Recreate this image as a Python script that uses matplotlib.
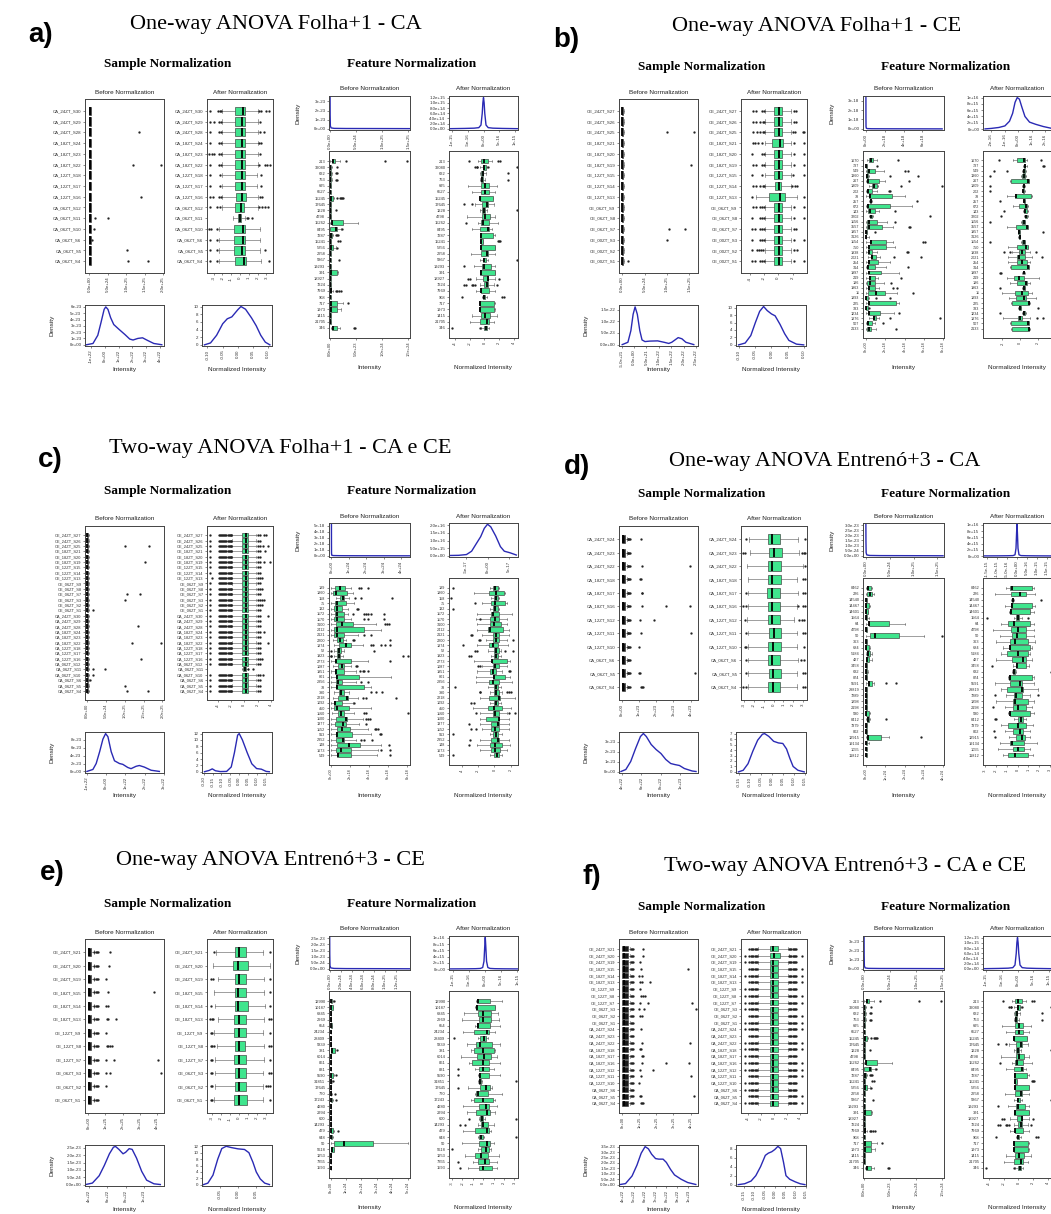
import numpy as np
import matplotlib.pyplot as plt

plt.rcParams['font.family'] = ['Liberation Sans', 'DejaVu Sans']

W, H = 1051, 1214
GREEN = '#3fe58d'
BLUE = '#2a2ab4'
EDGE = '#3a3a3a'

# ---------------------------------------------------------------- panel a
a_samples = ["CA_24ZT_S30", "CA_24ZT_S29", "CA_24ZT_S28", "CA_18ZT_S24", "CA_18ZT_S23",
             "CA_18ZT_S22", "CA_12ZT_S18", "CA_12ZT_S17", "CA_12ZT_S16", "CA_06ZT_S12",
             "CA_06ZT_S11", "CA_06ZT_S10", "CA_06ZT_S6", "CA_06ZT_S5", "CA_06ZT_S4"]
a_sb_box = (0.0, 0.01, 0.03, 0.0, 0.05)          # x 1e25
a_sb_out = [[], [], [1.34], [], [], [1.19, 1.94], [], [], [1.41], [],
            [0.15, 0.51], [0.13], [0.08], [1.02], [1.05, 1.6]]
a_sa_box = [(-0.56, 0.30, 0.56, -2.0, 2.0), (-0.56, 0.26, 0.56, -2.0, 2.0),
            (-0.56, 0.26, 0.56, -2.0, 2.1), (-0.56, 0.22, 0.56, -2.0, 2.0),
            (-0.56, 0.22, 0.56, -2.0, 2.0), (-0.56, 0.26, 0.56, -2.0, 2.0),
            (-0.56, 0.26, 0.56, -2.0, 1.95), (-0.56, 0.26, 0.56, -2.0, 1.95),
            (-0.45, 0.26, 0.67, -2.0, 2.1), (-0.56, 0.11, 0.45, -2.0, 2.0),
            (-0.19, 0.0, 0.11, -0.75, 0.56), (-0.67, 0.30, 0.56, -2.4, 2.3),
            (-0.67, 0.30, 0.56, -2.4, 2.3), (-0.67, 0.26, 0.56, -2.4, 2.3),
            (-0.56, 0.45, 0.67, -2.4, 2.4)]
a_sa_out = [[-3.4, -2.5, -2.3, -2.2, 2.2, 2.4, 3.0, 3.3], [-3.4, -2.9, -2.4, -2.2, 2.3],
            [-3.4, -2.4, -2.2, 2.3, 2.7], [-3.4, -2.4, -2.2, 2.2, 2.4],
            [-3.5, -3.2, -2.9, -2.4, -2.2, 2.3], [-3.4, -2.4, -2.2, 2.2, 2.8, 3.1, 3.4],
            [-3.4, -2.3, 2.4], [-3.4, -2.3, 2.4], [-3.4, -3.1, -2.4, -2.2, 2.3, 2.5],
            [-3.4, -2.6, -2.3, 2.2, 2.5, 2.8, 3.2], [0.75, 0.94, 1.4], [-3.5, -3.3, -2.6],
            [-3.4, -2.6], [-3.4, -2.6, 2.8], [-3.4, -2.6, 3.3]]
a_sdb_x = [-1.33, -0.86, -0.51, -0.28, -0.05, 0.07, 0.23, 0.42, 0.65, 1.0, 1.47, 1.81,
           2.05, 2.4, 2.74, 3.09, 3.56, 4.14]   # x 1e22
a_sdb_y = [0, 0.2, 1.5, 3.5, 5.6, 6.0, 5.6, 4.3, 3.2, 2.5, 1.6, 0.9, 0.75, 1.0, 1.1, 0.7,
           0.2, 0]                               # x 1e-23
a_sda_x = [-0.11, -0.09, -0.07, -0.05, -0.035, -0.02, 0.0, 0.01, 0.025, 0.045, 0.06,
           0.075, 0.09, 0.105]
a_sda_y = [0, 0.5, 2.5, 5.5, 6.8, 7.3, 9.2, 10, 9.3, 7.0, 5.0, 2.5, 0.7, 0]

a_features = ["213", "32080", "632", "763", "695", "6527", "15245", "17645", "1228", "4798",
              "15262", "8495", "7287", "15241", "5256", "2258", "5867", "19293", "391",
              "18927", "7224", "7969", "908", "717", "1973", "1415", "21705", "346"]
a_fb_box = [(0.3, 0.6, 1.0, 0.0, 1.9), (0, 0.05, 0.2, 0, 0.3), (0, 0.05, 0.2, 0, 0.3),
            (0, 0.05, 0.2, 0, 0.3), (0, 0.05, 0.15, 0, 0.25), (0, 0.05, 0.15, 0, 0.25),
            (0, 0.2, 0.5, 0, 0.8), (0, 0.05, 0.15, 0, 0.25), (0, 0.05, 0.15, 0, 0.25),
            (0, 0.05, 0.15, 0, 0.25), (0.3, 0.45, 2.55, 0, 5.4), (0, 1.15, 1.4, 0, 2.2),
            (0, 0.1, 0.3, 0, 0.6), (0, 0.05, 0.15, 0, 0.25), (0.06, 0.13, 0.64, 0, 1.1),
            (0, 0.05, 0.15, 0, 0.25), (0, 0.05, 0.15, 0, 0.25), (0, 0.05, 0.15, 0, 0.25),
            (0.06, 0.13, 1.4, 0, 1.5), (0, 0.05, 0.15, 0, 0.25), (0, 0.05, 0.15, 0, 0.25),
            (0, 0.1, 0.25, 0, 0.64), (0, 0.05, 0.15, 0, 0.25), (0.06, 0.2, 1.28, 0, 2.5),
            (0.06, 0.2, 1.4, 0, 2.2), (0, 0.05, 0.15, 0, 0.25), (0, 0.05, 0.15, 0, 0.25),
            (0.4, 0.5, 1.28, 0.1, 1.9)]        # x 1e23
a_fb_out = [[3.1, 10.5, 14.7], [1.3], [1.15, 1.3], [1.1, 1.3], [], [],
            [1.4, 1.9, 2.1, 2.3, 2.55], [], [1.15], [], [], [2.3], [1.15, 1.4, 1.6],
            [1.6, 1.9], [1.3], [], [1.66], [], [], [], [], [1.15, 1.4, 1.66, 2.2], [],
            [3.5], [], [], [], [4.5, 4.7]]
a_fa_box = [(-0.53, -0.1, 0.44, -0.9, 1.1), (-0.18, -0.05, 0.2, -0.66, 0.4),
            (-0.44, -0.2, -0.13, -0.6, 0.2), (-0.4, -0.3, -0.18, -0.6, 0.1),
            (-0.53, 0.13, 0.66, -2.2, 1.76), (-0.53, 0.09, 0.62, -1.67, 1.5),
            (-0.66, -0.57, 1.19, -0.75, 1.2), (-0.31, 0.35, 0.53, -1.3, 1.3),
            (-0.31, -0.1, 0.09, -0.66, 0.35), (-0.35, 0.09, 0.79, -2.33, 1.5),
            (-0.44, -0.22, 0.66, -0.88, 1.85), (-0.66, 0.53, 0.66, -1.76, 1.1),
            (-0.57, -0.48, 1.19, -0.66, 1.4), (-0.53, -0.4, -0.26, -0.6, -0.2),
            (-0.53, -0.44, 1.45, -0.66, 1.5), (-0.53, 0.31, 0.44, -1.85, 1.5),
            (-0.26, 0.0, 0.22, -0.6, 0.5), (-0.35, -0.05, 0.88, -1.41, 1.5),
            (-0.57, -0.48, 1.41, -0.66, 1.45), (-0.22, 0.44, 0.53, -1.1, 1.45),
            (-0.09, 0.35, 0.53, -0.62, 1.32), (-0.53, -0.44, 0.57, -1.1, 1.5),
            (-0.13, 0.0, 0.13, -0.3, 0.3), (-0.62, -0.57, 1.32, -0.7, 1.4),
            (-0.62, -0.57, 1.32, -0.7, 1.4), (-0.53, 0.09, 0.75, -1.76, 1.67),
            (-0.62, 0.35, 0.66, -1.98, 1.32), (0.0, 0.18, 0.35, -0.44, 0.66)]
a_fa_out = [[-2.07, 1.9, 2.07], [-1.3, -1.05, -0.97, 0.44, 4.5], [3.2], [3.2], [], [], [],
            [-2.8, -1.76], [4.4], [], [-2.55], [], [], [1.85, 2.0, 2.2], [], [], [4.4],
            [-2.73], [], [-2.2, -2.0, 1.98], [-2.73, -2.5, -1.76, -1.5, -1.3, 1.76], [],
            [-3.08, 2.42, 2.64], [], [], [], [], [-4.4, -0.66]]
a_fdb_x = [0.0, 0.002, 0.006, 0.02, 0.08, 0.3, 0.8, 1.2, 1.52]        # x 1e25
a_fdb_y = [4.0, 1.5, 0.3, 0.08, 0.03, 0.015, 0.01, 0.005, 0.0]        # x 1e-23
a_fda_x = [-1.1, -0.6, -0.3, -0.15, -0.08, -0.04, -0.02, 0, 0.02, 0.04, 0.08, 0.15, 0.3,
           0.6, 1.1]                                                   # x 1e-15
a_fda_y = [0.01, 0.02, 0.03, 0.05, 0.15, 0.6, 1.0, 1.2, 1.0, 0.6, 0.15, 0.05, 0.03, 0.02,
           0.01]                                                       # x 1e15

# ---------------------------------------------------------------- panel b
b_samples = ["CE_24ZT_S27", "CE_24ZT_S26", "CE_24ZT_S25", "CE_18ZT_S21", "CE_18ZT_S20",
             "CE_18ZT_S19", "CE_12ZT_S15", "CE_12ZT_S14", "CE_12ZT_S13", "CE_06ZT_S9",
             "CE_06ZT_S8", "CE_06ZT_S7", "CE_00ZT_S3", "CE_00ZT_S2", "CE_00ZT_S1"]
b_sb_box = (0.0, 0.005, 0.02, 0.0, 0.035)
b_sb_out = [[], [], [0.99, 1.61], [], [], [1.53], [], [], [], [], [], [1.05, 1.40], [0.99],
            [], [0.13]]
b_sa_box = [(-0.6, 0.15, 0.5, -1.9, 1.8), (-0.6, 0.15, 0.5, -1.9, 1.8),
            (-0.6, 0.15, 0.5, -1.9, 1.8), (-0.9, 0.3, 0.6, -1.9, 1.8),
            (-0.6, 0.15, 0.5, -1.9, 1.8), (-0.6, 0.15, 0.5, -1.9, 1.8),
            (-0.6, 0.15, 0.5, -1.9, 1.8), (-0.5, 0.1, 0.4, -1.8, 1.7),
            (-1.3, 0.3, 0.9, -3.1, 2.6), (-0.6, 0.15, 0.5, -1.9, 1.8),
            (-0.6, 0.15, 0.5, -1.9, 1.8), (-0.6, 0.15, 0.5, -1.9, 1.8),
            (-0.6, 0.15, 0.5, -1.9, 1.8), (-0.6, 0.15, 0.5, -1.9, 1.8),
            (-0.6, 0.15, 0.5, -1.9, 1.8)]
b_sa_out = [[-3.5, -3.1, -2.3, -2.0, 2.2, 2.5], [-3.5, -3.1, -2.5, -2.2, -2.0, 2.2, 2.5],
            [-3.5, -3.0, -2.5, -2.2, -2.0, 2.1, 2.3, 3.4, 3.6],
            [-3.5, -3.2, -2.9, -2.3, 2.2, 3.6], [-3.6, -2.3, -2.0, 2.2, 3.6],
            [-3.5, -3.1, -2.3, -2.0, 2.2, 3.6], [-3.6, -2.3, 2.0, 3.6],
            [-3.5, -3.1, -2.5, -2.2, -2.0, 1.9, 2.3, 2.6], [-3.6, 3.6],
            [-3.5, -3.1, -2.6, -2.3, -2.0, 2.2, 3.6], [-3.6, -2.6, -2.3, -2.0, 2.2, 3.6],
            [-3.6, -3.3, -2.6, -2.3, -2.0, 2.2, 2.4], [-3.6, -2.6, -2.3, -2.0, 2.2, 3.6],
            [-3.6, -3.0, -2.7, -2.4, -2.1, 2.2, 2.6], [-3.6, -3.3, -2.6, -2.3, -2.0, 2.2, 3.6]]
b_sdb_x = [-0.48, -0.25, -0.13, -0.04, 0.04, 0.13, 0.23, 0.32, 0.44, 0.63, 0.95, 1.21, 1.40,
           1.52, 1.78, 1.93, 2.09, 2.41]        # x 1e22
b_sdb_y = [0, 0.1, 0.6, 1.3, 1.62, 1.3, 0.6, 0.2, 0.13, 0.15, 0.16, 0.1, 0.05, 0.1, 0.3,
           0.25, 0.1, 0]                         # x 1e-22
b_sda_x = [-0.1, -0.08, -0.063, -0.049, -0.036, -0.024, -0.013, 0, 0.011, 0.026, 0.04,
           0.053, 0.076, 0.098]
b_sda_y = [0, 0.5, 2.5, 6, 9, 10.3, 9.2, 8.3, 7.8, 5.5, 3.0, 1.2, 0.2, 0]

b_features = ["1670", "737", "549", "1360", "267", "1809", "202", "78", "257", "672", "143",
              "3202", "1156", "3557", "1957", "3126", "1154", "750", "1938", "2021", "254",
              "314", "1997", "219", "186", "1963", "11", "1893", "225", "333", "1234",
              "1876", "507", "2133"]
b_fb_box = [(0.31, 0.48, 0.72, 0.07, 1.16), (0, 0.03, 0.07, 0, 0.12),
            (0.07, 0.34, 0.89, 0, 1.84), (0.03, 0.07, 0.2, 0, 0.3),
            (0.07, 0.2, 1.33, 0, 2.0), (0.65, 0.82, 1.09, 0.3, 1.26),
            (0.07, 0.2, 0.65, 0, 1.16), (0.27, 0.41, 2.73, 0, 4.06),
            (0.41, 0.48, 0.55, 0.3, 0.6), (0.07, 0.2, 2.53, 0, 4.74),
            (0.2, 0.41, 0.89, 0, 1.33), (0.41, 0.55, 0.65, 0.3, 0.75),
            (0.14, 0.27, 1.16, 0, 2.18), (0.14, 0.31, 1.67, 0, 2.8),
            (0, 0.03, 0.07, 0, 0.1), (0, 0.02, 0.05, 0, 0.3),
            (0.41, 0.48, 2.05, 0, 2.8), (0.24, 0.34, 2.05, 0, 2.97),
            (0.24, 0.34, 0.61, 0, 1.16), (0.48, 0.58, 1.0, 0.2, 1.5),
            (0.2, 0.31, 1.23, 0, 2.46), (0.07, 0.2, 0.92, 0, 2.11),
            (0.2, 0.31, 1.6, 0, 3.38), (0.27, 0.41, 0.92, 0, 1.26),
            (0.14, 0.41, 0.92, 0, 1.84), (0.2, 0.31, 0.92, 0, 1.33),
            (0.2, 1.06, 2.0, 0, 3.2), (0, 0.05, 0.2, 0, 0.3),
            (0.2, 0.31, 3.07, 0, 3.38), (0, 0.05, 0.17, 0, 0.2),
            (0.24, 0.31, 1.5, 0, 2.87), (0.68, 0.82, 0.99, 0.3, 1.36),
            (0.07, 0.2, 0.58, 0, 0.89), (0.07, 0.34, 0.51, 0, 0.99)]   # x 1e18
b_fb_out = [[3.28], [1.16], [4.06, 4.4], [2.53, 5.36], [4.5], [3.65, 7.88], [2.35, 2.5], [],
            [5.32], [], [3.04], [6.62], [3.04], [4.44, 4.54], [0.89], [], [5.94, 6.07], [],
            [4.23, 4.4], [2.87, 5.7], [], [4.4], [], [3.61], [2.6], [2.8, 3.2], [4.91],
            [0.99, 2.53], [], [0.34], [3.38], [2.53, 7.65], [1.77], [3.1]]
b_fa_box = [(-0.39, 0.39, 0.53, -0.81, 0.78), (0.46, 0.53, 0.6, 0.3, 0.8),
            (0.32, 0.42, 0.53, 0.2, 0.7), (0.25, 0.4, 0.53, 0.1, 0.7),
            (-0.99, 0.88, 0.95, -1.1, 1.0), (0.32, 0.4, 0.46, 0.2, 0.6),
            (0.28, 0.35, 0.46, 0.2, 0.6), (-0.53, -0.46, 1.2, -1.45, 1.31),
            (0.39, 0.46, 0.53, 0.3, 0.6), (-0.11, 0.71, 0.78, -0.81, 0.85),
            (0.46, 0.6, 0.74, 0.3, 0.85), (0.53, 0.67, 0.81, 0.4, 0.9),
            (0.25, 0.4, 0.5, 0.1, 0.6), (-0.46, 0.78, 0.85, -1.45, 0.9),
            (-0.21, -0.14, -0.07, -0.3, 0.0), (-0.14, -0.07, -0.04, -0.2, 0.0),
            (0.25, 0.4, 0.5, 0.1, 0.6), (-0.39, 0.67, 0.85, -1.38, 0.9),
            (-0.11, 0.18, 0.56, -0.88, 1.13), (-0.35, -0.11, 0.53, -1.41, 1.31),
            (-0.39, 0.25, 0.78, -1.41, 1.13), (-1.06, 0.88, 0.95, -1.2, 1.0),
            (0.32, 0.4, 0.46, 0.2, 0.6), (-0.74, -0.11, 0.39, -1.52, 2.12),
            (-0.39, 0.71, 0.78, -1.17, 1.13), (0.32, 0.42, 0.5, 0.2, 0.6),
            (-0.53, 0.25, 0.85, -2.05, 1.38), (-0.46, 0.42, 0.64, -1.24, 1.84),
            (-0.88, 0.95, 1.02, -1.0, 1.1), (-0.11, -0.04, 0.04, -0.2, 0.1),
            (0.32, 0.46, 0.6, 0.2, 0.7), (-0.28, -0.04, 0.25, -1.94, 1.13),
            (-1.06, 0.88, 0.95, -1.2, 1.0), (-0.88, 0.95, 1.02, -1.0, 1.1)]
b_fa_out = [[-2.4, 2.3], [2.55, 2.72], [-3.0, -1.52], [-3.46], [], [-3.39], [-3.39], [],
            [-2.3], [], [-1.87], [-2.16], [-3.39], [], [2.55], [], [-3.39], [],
            [-1.87, -1.17, 1.84], [2.5], [], [], [-2.3, -2.16], [], [], [-2.33], [], [], [],
            [2.01], [-2.33], [1.94, 2.55], [], []]
b_fdb_x = [0.0, 0.004, 0.012, 0.04, 0.15, 0.6, 2.0, 5.0, 8.1]      # x 1e18
b_fdb_y = [4.0, 1.2, 0.25, 0.07, 0.03, 0.015, 0.01, 0.005, 0.0]    # x 1e-18
b_fda_x = [-2.45, -2.0, -1.43, -0.98, -0.64, -0.41, -0.23, -0.07, 0.09, 0.27, 0.5, 0.84,
           1.3, 1.86, 2.39]                                          # x 1e-16
b_fda_y = [0.05, 0.2, 0.5, 1.0, 2.5, 5.0, 8.5, 10, 9.5, 7.0, 4.0, 2.2, 1.5, 0.8, 0.3]  # x 1e15

# ---------------------------------------------------------------- panel c
c_samples = ["CE_24ZT_S27", "CE_24ZT_S26", "CE_24ZT_S25", "CE_18ZT_S21", "CE_18ZT_S20",
             "CE_18ZT_S19", "CE_12ZT_S15", "CE_12ZT_S14", "CE_12ZT_S13", "CE_06ZT_S9",
             "CE_06ZT_S8", "CE_06ZT_S7", "CE_06ZT_S3", "CE_06ZT_S2", "CE_06ZT_S1",
             "CA_24ZT_S30", "CA_24ZT_S29", "CA_24ZT_S28", "CA_18ZT_S24", "CA_18ZT_S23",
             "CA_18ZT_S22", "CA_12ZT_S18", "CA_12ZT_S17", "CA_12ZT_S16", "CA_06ZT_S12",
             "CA_06ZT_S11", "CA_06ZT_S10", "CA_06ZT_S6", "CA_06ZT_S5", "CA_06ZT_S4"]
c_sb_box = (0.0, 0.01, 0.03, 0.0, 0.05)
c_sb_out = [[], [], [1.0, 1.63], [], [], [1.54], [], [], [], [], [], [1.06, 1.41], [1.02],
            [], [0.15], [], [], [1.35], [], [], [1.2, 1.95], [], [], [1.43], [],
            [0.15, 0.47], [0.15], [0.09], [1.02], [1.06, 1.61]]
c_tail = [-3.85, -3.7, -3.5, -3.35, -3.2, -3.0, -2.85, -2.7, -2.5, -2.35, -2.2, -2.05, -1.95]
c_sa_box = ([(-0.3, 0.2, 0.5, -1.85, 1.8)] * 25 + [(-0.15, 0.05, 0.25, -0.4, 0.5)]
            + [(-0.3, 0.2, 0.5, -1.85, 1.8)] * 4)
c_sa_out = [c_tail + [-5.1, 2.0, 2.3, 3.0, 3.3], c_tail + [-5.1, 2.0, 2.3],
            c_tail + [-5.1, 2.0, 2.3, 2.8, 3.6], c_tail + [-5.1, 2.0, 2.3, 3.1],
            c_tail + [-5.1, 2.0, 2.3], c_tail + [-5.1, 2.0, 2.4, 3.0, 3.8],
            c_tail + [-5.1, 2.0, 2.3], c_tail + [-5.1, 2.0, 2.3],
            c_tail + [-4.8, 2.0, 2.3, 2.6], c_tail + [-5.1, 2.0, 2.3],
            c_tail + [-5.1, 2.0, 2.3, 2.6], c_tail + [-5.1, 2.0, 2.3],
            c_tail + [-5.1, 2.0, 2.3, 2.6, 3.0], c_tail + [-5.1, 2.0, 2.3, 2.6],
            c_tail + [-5.1, 2.0, 2.3], c_tail + [-5.1, 2.0, 2.3, 3.6],
            c_tail + [-5.1, 2.0, 2.3], c_tail + [-5.1, 2.0, 2.3],
            c_tail + [-5.1, 2.0, 2.3, 3.0], c_tail + [-5.1, 2.0, 2.3],
            c_tail + [-5.1, 2.0, 2.3, 3.6], c_tail + [-5.1, 2.0, 2.3],
            c_tail + [-5.1, 2.0, 2.3], c_tail + [-5.1, 2.0, 2.3, 2.6],
            c_tail + [-5.1, 2.0, 2.3], [0.6, 1.3], c_tail + [-5.1, 2.0, 2.3, 2.8],
            c_tail + [-5.1, 2.0, 2.3], c_tail + [-5.1, 2.0, 2.3], c_tail + [-5.1, 2.0, 2.3]]
c_sdb_x = [-1.0, -0.69, -0.52, -0.34, -0.17, -0.03, 0.09, 0.26, 0.43, 0.69, 0.86, 1.12,
           1.29, 1.55, 1.72, 1.98, 2.33, 2.76]
c_sdb_y = [0, 0.5, 2, 5, 8.2, 9.6, 8.8, 5, 2.7, 2.0, 1.8, 1.0, 0.7, 1.3, 1.5, 1.1, 0.3, 0]
c_sda_x = [-0.196, -0.17, -0.152, -0.134, -0.107, -0.071, -0.045, -0.027, -0.009, 0,
           0.018, 0.045, 0.071, 0.098, 0.125, 0.152, 0.17]
c_sda_y = [0, 0.4, 0.9, 0.3, 0.05, 0.1, 1.5, 6, 11.5, 12, 10, 6, 2.5, 1.0, 0.8, 0.1, 0]

c_features = ["189", "1860", "158", "75", "132", "1172", "1170", "3100", "2412", "2121",
              "2200", "1874", "52", "1923", "2773", "1087", "1951", "801", "2856", "78",
              "390", "2218", "1092", "450", "1160", "1100", "1377", "1152", "913", "2352",
              "148", "1673", "549"]
c_fb_box = [(0.46, 0.95, 1.51, 0.07, 2.11), (0.25, 0.53, 1.65, 0, 2.29),
            (0.99, 1.23, 1.41, 0.53, 1.94), (0.42, 0.63, 1.58, 0, 2.39),
            (0.35, 0.63, 1.13, 0.07, 1.76), (0.46, 0.7, 1.34, 0, 1.76),
            (0.35, 0.7, 1.41, 0, 2.11), (0.6, 1.13, 2.29, 0, 4.75),
            (0.35, 0.7, 3.45, 0, 5.28), (0.35, 0.7, 1.41, 0, 2.82),
            (0.7, 0.99, 1.23, 0.28, 1.58), (0.88, 1.58, 2.11, 0.35, 3.35),
            (0.7, 0.88, 1.06, 0.35, 1.41), (0.63, 0.88, 0.99, 0.35, 1.23),
            (0.46, 0.56, 2.11, 0, 3.87), (0.77, 1.13, 1.41, 0.28, 2.11),
            (0.42, 0.6, 1.34, 0, 2.64), (0.53, 0.63, 3.0, 0, 6.34),
            (0.53, 0.77, 1.16, 0, 2.64), (0.53, 0.7, 3.45, 0, 4.15),
            (0.88, 1.06, 1.41, 0.35, 1.94), (0.77, 1.65, 1.76, 0.28, 2.82),
            (0.35, 0.42, 1.13, 0, 2.29), (0.35, 0.63, 1.94, 0, 4.23),
            (0.77, 1.06, 1.41, 0.18, 2.46), (0.53, 1.58, 1.65, 0, 3.35),
            (0.42, 1.23, 1.58, 0, 2.99), (0.63, 1.13, 2.04, 0, 3.87),
            (0.53, 0.63, 2.22, 0, 4.23), (0.6, 1.23, 1.41, 0, 2.64),
            (0.63, 1.94, 3.1, 0, 5.28), (0.53, 1.06, 2.11, 0, 4.93),
            (0.63, 0.77, 2.11, 0, 4.82)]        # x 1e18
c_fb_out = [[3.0, 3.17, 3.94], [], [2.54, 3.17, 6.41], [], [2.71, 2.89],
            [2.29, 3.45, 3.7, 3.94, 4.15, 5.53], [3.45, 3.87, 5.56], [5.63, 5.92, 6.06], [],
            [3.52, 4.23], [2.29, 2.39, 6.16], [4.23, 4.4, 5.21, 5.63, 6.16], [0.07, 4.47],
            [0.0, 0.07, 7.57, 8.1], [6.16], [2.64, 2.75], [3.1, 3.35, 3.52, 3.94], [],
            [3.17, 3.87], [], [4.23, 4.68, 5.35], [3.35, 3.7, 6.8], [2.39], [],
            [3.52, 3.7, 8.1], [3.7, 3.94, 4.05], [3.7], [4.58, 4.75, 4.93], [5.1, 5.28],
            [3.17, 3.52, 4.3], [6.09], [5.28, 6.16], [6.16]]
c_fa_box = [(-0.19, 0.12, 0.38, -0.58, 0.58), (-0.65, 0.19, 1.15, -2.5, 1.35),
            (-0.08, 0.19, 0.38, -0.38, 0.58), (-0.38, 0.12, 1.35, -1.54, 1.54),
            (-0.19, 0.12, 0.38, -0.6, 0.6), (-0.38, -0.12, 0.58, -2.12, 2.12),
            (-0.5, 0.12, 0.58, -2.3, 1.54), (-0.58, 0.0, 0.77, -2.2, 1.54),
            (-0.77, -0.58, 1.04, -2.12, 1.73), (-0.19, 0.19, 0.58, -1.54, 1.73),
            (-0.19, 0.19, 0.58, -1.04, 1.54), (-0.65, -0.19, 0.38, -2.12, 1.65),
            (0.0, 0.19, 0.5, -0.77, 0.77), (0.0, 0.19, 0.38, -0.38, 0.77),
            (-0.31, -0.27, 1.54, -2.5, 1.92), (-0.19, 0.12, 0.58, -1.54, 1.54),
            (-0.58, -0.19, 0.19, -2.12, 0.96), (-0.19, 0.0, 1.35, -2.31, 1.92),
            (-0.65, -0.19, 0.58, -2.31, 2.12), (-0.08, 0.19, 0.38, -0.77, 0.77),
            (-0.08, 0.19, 0.5, -0.58, 0.96), (-0.65, 0.58, 0.65, -1.73, 2.5),
            (0.0, 0.19, 0.38, -0.58, 0.77), (-0.77, 0.0, 0.96, -2.69, 2.04),
            (-0.19, 0.12, 0.5, -1.81, 1.54), (-1.04, 0.5, 0.58, -1.73, 1.73),
            (-0.38, 0.38, 0.58, -1.73, 1.73), (-0.38, 0.12, 0.58, -1.54, 1.73),
            (-0.12, 0.19, 0.38, -0.58, 0.96), (-0.38, 0.38, 0.58, -1.73, 1.73),
            (-0.5, 0.12, 0.88, -2.12, 1.92), (-0.38, 0.12, 0.65, -1.81, 1.54),
            (0.0, 0.27, 0.5, -0.58, 0.88)]
c_fa_out = [[-5.1], [], [-5.4], [-2.38], [-5.1], [], [-1.73], [], [], [-2.88, -2.77],
            [-1.92, -1.73, 2.31], [-3.85], [-2.42, -2.12, 1.35, 2.31], [-3.08, -2.88], [],
            [-2.04, -1.73], [1.73, 1.92], [], [], [-4.88], [-1.81, -1.73, 1.54, 1.81, 2.04],
            [], [-2.88, -2.5], [], [-2.31, 1.73, 2.58], [], [-3.15], [-2.88, -2.31], [-5.1],
            [-2.96], [-3.19], [], [-5.1]]
c_fdb_x = [0.0, 0.002, 0.006, 0.02, 0.1, 0.5, 1.5, 3.0, 4.5]      # x 1e24
c_fdb_y = [6.0, 2.0, 0.4, 0.1, 0.04, 0.02, 0.01, 0.005, 0.0]      # x 1e-18
c_fda_x = [-8.6, -6.7, -4.9, -3.7, -2.6, -1.6, -0.75, 0, 0.75, 1.9, 3.0, 3.9, 5.2, 6.7]  # x 1e-17
c_fda_y = [0.02, 0.03, 0.08, 0.3, 0.8, 1.25, 1.8, 2.07, 1.9, 1.3, 0.6, 0.3, 0.2, 0.05]  # x 1e16

# ---------------------------------------------------------------- panel d
d_samples = ["CA_24ZT_S24", "CA_24ZT_S23", "CA_24ZT_S22", "CA_18ZT_S18", "CA_18ZT_S17",
             "CA_18ZT_S16", "CA_12ZT_S12", "CA_12ZT_S11", "CA_12ZT_S10", "CA_06ZT_S6",
             "CA_06ZT_S5", "CA_06ZT_S4"]
d_sb_box = (0.0, 0.04, 0.2, 0.0, 0.3)           # x 1e23
d_sb_near = [0.33, 0.38, 0.43, 0.48]
d_sb_out = [[1.09], [], [1.18, 3.94], [1.03, 1.09], [1.15, 1.18], [1.18, 2.58, 3.94],
            [1.03, 1.86], [1.12, 4.0], [0.99], [], [1.0, 1.06, 4.23], [1.09, 1.15, 1.2]]
d_sa_box = [(-0.6, -0.17, 0.67, -2.5, 2.5), (-0.5, 0.0, 0.83, -2.4, 2.6),
            (-0.6, -0.17, 0.75, -2.7, 3.0), (-0.6, -0.17, 0.75, -2.6, 2.4),
            (-0.65, -0.2, 0.67, -2.6, 2.5), (-0.6, -0.2, 0.6, -2.6, 2.4),
            (-0.6, -0.2, 0.6, -2.7, 2.1), (-0.5, 0.0, 0.75, -2.6, 2.4),
            (-0.55, -0.05, 0.7, -2.6, 2.4), (-0.6, -0.17, 0.6, -2.6, 2.5),
            (-0.5, -0.05, 0.75, -2.6, 2.4), (-0.55, -0.1, 0.6, -2.6, 2.4)]
d_sa_out = [[-2.8, 3.2], [-3.1, -2.9, 2.9, 3.1, 3.2], [3.2], [3.0, 3.2], [-2.8, 3.0, 3.2],
            [-3.1, -2.8, 2.5, 3.0, 3.2], [-2.9, 2.6, 2.9, 3.1], [-2.8, 3.0, 3.2],
            [-2.9, -2.8, 3.1], [-2.8, 2.8, 3.1], [-2.8, 3.0, 3.2], [-3.1, -2.8, 3.0, 3.2]]
d_sdb_x = [3.9, 4.4, 4.9, 5.4, 5.9, 6.2, 6.5, 7.0, 7.5, 8.0, 8.5, 9.0, 9.4, 9.9, 10.4,
           11.2, 11.6]                           # x 1e22
d_sdb_y = [0, 0.2, 1.0, 2.3, 3.5, 3.8, 3.5, 2.7, 2.2, 1.8, 1.2, 0.8, 0.7, 0.6, 0.3, 0.05,
           0]                                    # x 1e-23
d_sda_x = [-0.154, -0.132, -0.11, -0.088, -0.066, -0.044, -0.034, -0.015, 0.007, 0.029,
           0.049, 0.066, 0.081, 0.096, 0.118, 0.147]
d_sda_y = [0, 0.3, 1.5, 3.8, 5.8, 6.9, 7.0, 6.5, 5.6, 5.3, 5.2, 4.2, 2.5, 1.0, 0.3, 0]

d_features = ["8462", "226", "14540", "14467", "14601", "1564", "64", "4798", "50", "363",
              "684", "5184", "427", "3458", "632", "874", "5591", "29819", "7289", "1898",
              "2198", "580", "8412", "7379", "802", "12915", "19134", "1055", "11812"]
d_fb_box = [(0.05, 0.1, 0.26, 0, 0.31), (0.05, 0.19, 0.31, 0, 0.43), (0, 0.01, 0.03, 0, 0.05),
            (0, 0.02, 0.14, 0, 0.2), (0, 0.02, 0.09, 0, 0.12), (0, 0.01, 0.03, 0, 0.14),
            (0.14, 0.17, 1.19, 0, 2.03), (0, 0.01, 0.03, 0, 0.05),
            (0.22, 0.48, 1.69, 0, 3.02), (0, 0.01, 0.03, 0, 0.05), (0, 0.02, 0.14, 0, 0.2),
            (0.05, 0.12, 0.22, 0, 0.29), (0.02, 0.07, 0.17, 0, 0.31),
            (0, 0.01, 0.03, 0, 0.05), (0, 0.01, 0.03, 0, 0.1), (0, 0.01, 0.03, 0, 0.05),
            (0.1, 0.16, 0.31, 0, 0.4), (0, 0.01, 0.03, 0, 0.05), (0, 0.01, 0.03, 0, 0.05),
            (0, 0.01, 0.03, 0, 0.05), (0, 0.01, 0.03, 0, 0.05), (0, 0.02, 0.14, 0, 0.2),
            (0.05, 0.1, 0.14, 0, 0.2), (0, 0.01, 0.03, 0, 0.05), (0, 0.01, 0.03, 0, 0.05),
            (0.05, 0.1, 0.78, 0, 1.17), (0, 0.02, 0.07, 0, 0.17), (0, 0.01, 0.03, 0, 0.05),
            (0, 0.01, 0.03, 0, 0.05)]         # x 1e24
d_fb_out = [[], [], [], [], [], [], [], [], [3.95], [], [], [], [], [], [], [], [1.05, 1.55],
            [], [], [], [], [], [1.03], [], [], [2.86], [], [], []]
d_fa_box = [(-0.69, -0.51, 1.35, -1.05, 1.5), (-0.6, 0.21, 0.75, -2.1, 1.65),
            (-0.54, -0.45, -0.39, -0.6, -0.3), (-0.6, -0.54, 1.35, -1.2, 1.65),
            (-0.69, -0.63, 1.2, -0.75, 1.5), (-0.15, 0.05, 0.15, -0.3, 0.45),
            (-0.9, -0.3, 1.14, -1.5, 1.5), (-0.6, 0.09, 0.81, -2.25, 1.5),
            (-0.54, -0.06, 0.81, -1.62, 1.5), (-0.66, -0.21, 0.96, -1.95, 1.65),
            (-0.69, -0.66, 1.2, -1.35, 1.35), (-0.99, 0.03, 0.99, -1.5, 1.2),
            (-0.54, 0.51, 0.81, -2.01, 1.35), (-0.15, -0.06, 0.75, -0.45, 1.05),
            (-0.39, -0.3, -0.21, -0.5, -0.1), (-0.75, -0.66, 1.35, -0.9, 1.5),
            (-0.66, 0.24, 0.39, -2.1, 1.5), (-0.99, 0.42, 0.51, -1.5, 1.89),
            (-0.3, -0.15, 0.45, -1.05, 1.2), (-0.45, -0.21, 0.99, -1.98, 1.5),
            (-0.39, 0.09, 0.75, -1.2, 1.35), (-0.69, -0.66, 1.2, -0.9, 1.5),
            (0.06, 0.36, 0.51, -0.3, 0.75), (-0.9, 0.06, 0.81, -1.5, 1.41),
            (-0.45, 0.21, 0.54, -1.2, 1.2), (-0.15, 0.39, 0.66, -0.75, 1.2),
            (-0.69, -0.54, 0.6, -1.65, 1.8), (-0.45, 0.06, 0.6, -1.8, 1.2),
            (-0.84, -0.21, 0.96, -1.35, 1.41)]
d_fa_out = [[], [], [2.16], [], [], [-2.85, 1.0], [], [], [], [], [], [], [], [-2.4], [3.15],
            [], [], [], [-2.1, 1.89], [], [-2.25], [], [-2.1, -2.0], [], [-2.16], [-2.1],
            [], [], []]
d_fdb_x = [0.0, 0.002, 0.006, 0.02, 0.08, 0.3, 0.8, 1.3, 1.62]     # x 1e25
d_fdb_y = [3.8, 1.4, 0.3, 0.08, 0.03, 0.015, 0.01, 0.005, 0.0]     # x 1e-23
d_fda_x = [-1.7, -1.0, -0.5, -0.2, -0.1, -0.05, -0.02, 0, 0.02, 0.05, 0.1, 0.2, 0.5, 1.0,
           1.67]                                                      # x 1e-15
d_fda_y = [0.05, 0.07, 0.1, 0.15, 0.4, 2.5, 7.5, 10.2, 7.5, 2.5, 0.4, 0.15, 0.1, 0.07,
           0.05]                                                      # x 1e15

# ---------------------------------------------------------------- panel e
e_samples = ["CE_24ZT_S21", "CE_24ZT_S20", "CE_24ZT_S19", "CE_18ZT_S15", "CE_18ZT_S14",
             "CE_18ZT_S13", "CE_12ZT_S9", "CE_12ZT_S8", "CE_12ZT_S7", "CE_06ZT_S3",
             "CE_06ZT_S2", "CE_06ZT_S1"]
e_sb_box = (0.0, 0.05, 0.18, 0.0, 0.3)          # x 1e25
e_sb_near = [0.35, 0.42, 0.5, 0.58]
e_sb_out = [[1.27], [1.19], [1.03], [1.13, 3.84], [1.03, 1.17], [1.09, 1.17, 1.62], [1.03],
            [1.09, 1.17, 1.27, 1.37], [1.03, 1.5, 4.1], [1.03, 1.27, 4.24], [1.03], []]
e_sa_box = [(-0.46, 0.0, 0.79, -2.5, 2.7), (-0.68, -0.07, 0.96, -2.8, 3.4),
            (-0.46, 0.0, 0.79, -2.3, 2.75), (-0.46, -0.07, 0.79, -2.7, 2.8),
            (-0.46, -0.07, 0.96, -2.6, 2.9), (-0.5, 0.0, 0.79, -2.3, 2.8),
            (-0.54, 0.0, 0.79, -2.7, 2.6), (-0.46, 0.0, 0.71, -2.4, 2.8),
            (-0.54, 0.0, 0.79, -2.6, 2.8), (-0.46, 0.07, 0.79, -2.6, 2.7),
            (-0.46, 0.0, 0.79, -2.6, 2.7), (-0.54, 0.0, 0.86, -2.7, 2.7)]
e_sa_out = [[-2.7, 3.4], [], [-3.1, -2.8, 3.4], [3.4], [-3.1, 3.4],
            [-3.2, -3.0, -2.8, 3.3, 3.5], [-3.1, -3.0, 3.4], [-3.1, -2.9, -2.7, 3.3, 3.5],
            [-3.1, -2.9, 3.4], [-3.1, -2.9, 3.3, 3.5], [-3.1, -2.9, 3.0, 3.2, 3.4],
            [-3.1, -3.0, 3.4]]
e_sdb_x = [3.63, 4.37, 5.11, 5.67, 6.23, 6.67, 6.9, 7.27, 7.72, 8.0, 8.39, 8.72, 9.2, 9.76,
           10.3, 11.1, 11.8]                     # x 1e22
e_sdb_y = [0, 0.1, 0.6, 1.3, 2.1, 2.55, 2.6, 2.4, 2.1, 2.2, 2.45, 2.4, 1.8, 0.9, 0.3, 0.05,
           0]                                    # x 1e-23
e_sda_x = [-0.095, -0.082, -0.068, -0.055, -0.044, -0.032, -0.018, 0, 0.018, 0.03, 0.041,
           0.05, 0.061, 0.073, 0.086]
e_sda_y = [0, 0.5, 3, 8, 11.3, 12, 11.6, 11.2, 11.0, 10, 7, 4, 1.8, 0.5, 0.05]

e_features = ["12990", "10187", "6845", "2269", "654", "24234", "28409", "5839", "381",
              "6014", "861", "831", "5590", "31851", "17645", "770", "17243", "4280", "2994",
              "600", "14293", "479", "648", "50", "5618", "1253", "7355", "1593"]
e_fb_box = [(0, 0.04, 0.11, 0, 0.15), (0.0, 0.05, 0.15, 0, 0.18), (0, 0.01, 0.03, 0, 0.05),
            (0, 0.01, 0.03, 0, 0.05), (0, 0.03, 0.09, 0, 0.12), (0, 0.01, 0.03, 0, 0.05),
            (0, 0.01, 0.03, 0, 0.05), (0, 0.01, 0.03, 0, 0.05), (0.06, 0.1, 0.26, 0, 0.32),
            (0, 0.01, 0.03, 0, 0.05), (0, 0.01, 0.03, 0, 0.05), (0, 0.01, 0.03, 0, 0.05),
            (0.02, 0.06, 0.15, 0, 0.2), (0, 0.02, 0.06, 0, 0.1), (0, 0.01, 0.03, 0, 0.05),
            (0, 0.02, 0.06, 0, 0.1), (0, 0.03, 0.12, 0, 0.15), (0, 0.01, 0.03, 0, 0.05),
            (0, 0.01, 0.03, 0, 0.05), (0, 0.01, 0.03, 0, 0.05), (0, 0.01, 0.03, 0, 0.05),
            (0.02, 0.06, 0.15, 0, 0.2), (0, 0.03, 0.09, 0, 0.15), (0.21, 0.86, 2.75, 0.04, 4.99),
            (0.04, 0.08, 0.21, 0, 0.25), (0, 0.01, 0.03, 0, 0.05), (0, 0.01, 0.03, 0, 0.05),
            (0, 0.01, 0.03, 0, 0.05)]         # x 1e24
e_fb_out = [[0.21], [], [], [], [], [], [], [], [0.43], [], [], [], [0.36], [0.15], [],
            [0.26], [0.36], [], [], [], [], [0.47], [], [], [], [], [], []]
e_fa_box = [(-0.59, -0.53, 0.65, -0.68, 1.8), (-0.68, -0.59, 1.18, -0.84, 1.18),
            (-0.53, 0.0, 0.78, -1.86, 1.4), (-0.37, 0.0, 0.71, -2.08, 1.49),
            (-0.59, -0.53, 0.65, -0.75, 1.65), (-0.93, 0.34, 0.56, -1.93, 1.18),
            (-0.28, 0.09, 0.25, -0.53, 0.47), (-0.68, -0.28, 0.87, -1.61, 1.65),
            (-0.93, -0.06, 1.02, -1.15, 1.18), (-0.59, 0.09, 0.71, -2.14, 1.34),
            (-1.09, -0.06, 0.56, -1.37, 1.65), (-0.43, -0.06, 0.56, -0.78, 1.02),
            (-0.43, -0.28, 0.56, -0.47, 1.65), (-0.37, -0.3, -0.22, -0.5, -0.1),
            (-0.28, 0.31, 0.65, -1.46, 0.87), (-0.68, -0.53, 0.47, -0.75, 1.80),
            (-0.93, -0.06, 0.93, -1.15, 1.18), (-0.37, 0.25, 0.56, -1.93, 1.34),
            (-0.68, 0.34, 0.62, -1.61, 1.18), (-0.28, -0.12, -0.06, -0.4, 0.2),
            (-0.22, -0.06, 0.5, -0.53, 1.02), (-0.75, 0.40, 0.56, -1.93, 0.71),
            (-0.37, -0.22, -0.06, -0.5, 0.1), (-0.43, 0.34, 0.65, -2.08, 1.02),
            (-0.22, 0.25, 0.56, -0.53, 0.71), (-0.75, -0.22, 0.47, -1.77, 1.49),
            (-0.47, 0.16, 0.56, -1.0, 1.34), (-0.37, -0.06, 0.87, -1.46, 1.34)]
e_fa_out = [[], [], [], [], [], [], [-2.8], [], [], [], [], [-2.45], [-2.39], [3.2],
            [-2.39], [], [], [], [], [-1.37, 3.14], [-2.24, -1.77], [], [3.14], [], [-3.02],
            [], [-2.45], [-2.21]]
e_fdb_x = [0.0, 0.02, 0.06, 0.2, 0.8, 3.0, 8.0, 12.0, 14.4]     # x 1e24
e_fdb_y = [3.2, 1.2, 0.25, 0.07, 0.03, 0.015, 0.01, 0.005, 0.0]  # x 1e-23
e_fda_x = [-1.13, -0.6, -0.3, -0.15, -0.08, -0.04, -0.015, 0, 0.015, 0.04, 0.08, 0.15, 0.3,
           0.6, 1.02]                                              # x 1e-15
e_fda_y = [0.05, 0.08, 0.12, 0.2, 0.5, 2.5, 7.5, 10.2, 7.5, 2.5, 0.5, 0.2, 0.12, 0.08,
           0.05]                                                   # x 1e15

# ---------------------------------------------------------------- panel f
f_samples = ["CE_24ZT_S21", "CE_24ZT_S20", "CE_24ZT_S19", "CE_18ZT_S15", "CE_18ZT_S14",
             "CE_18ZT_S13", "CE_12ZT_S9", "CE_12ZT_S8", "CE_12ZT_S7", "CE_06ZT_S3",
             "CE_06ZT_S2", "CE_06ZT_S1", "CA_24ZT_S24", "CA_24ZT_S23", "CA_24ZT_S22",
             "CA_18ZT_S18", "CA_18ZT_S17", "CA_18ZT_S16", "CA_12ZT_S12", "CA_12ZT_S11",
             "CA_12ZT_S10", "CA_06ZT_S6", "CA_06ZT_S5", "CA_06ZT_S4"]
f_sb_box = (0.0, 0.08, 0.3, 0.0, 0.45)          # x 1e25
f_sb_near = [0.5, 0.55, 0.6]
f_sb_out = [[1.23], [1.19], [1.03], [1.11, 3.84], [0.99, 1.15], [1.03, 1.13, 1.62], [1.03],
            [1.11, 1.23, 1.33], [1.03, 1.5, 4.1], [0.99, 1.27, 4.3], [1.03, 1.13], [],
            [1.09], [], [1.15, 3.96], [1.05, 1.11], [1.13, 1.19], [1.15, 2.57, 3.94],
            [1.05, 1.82], [1.11, 4.0], [0.97], [], [1.03, 1.11, 4.2], [1.07, 1.15, 1.19]]
f_tail = [-3.7, -3.5, -3.3, -3.1, -2.9, -2.7, -2.55, 2.35, 2.5, 2.7, 2.9, 3.1, 3.3, 3.45]
f_sa_box = ([(-0.6, -0.1, 0.6, -2.4, 2.2)] + [(-0.5, 0.0, 1.0, -2.4, 2.3)]
            + [(-0.6, -0.1, 0.6, -2.4, 2.2)] * 22)
f_sa_out = [f_tail, f_tail + [-4.4, 4.4], f_tail + [-4.4], f_tail + [4.4],
            f_tail + [-4.4, 4.4], f_tail + [4.4], f_tail + [-4.4], f_tail + [-4.4, 4.4],
            f_tail + [-4.4, 4.4], f_tail + [-4.4], f_tail + [4.4], f_tail + [-4.4, 4.4],
            f_tail + [-4.4, 4.4], f_tail, f_tail + [-4.4, 4.4], f_tail + [-4.4, 4.4],
            f_tail + [-4.4], f_tail + [-4.4, 4.4], f_tail + [-4.4, 4.4], f_tail + [4.4],
            f_tail + [-4.4], f_tail + [-4.4], f_tail + [4.4], f_tail + [-4.4, 4.4]]
f_sdb_x = [3.64, 4.24, 4.84, 5.29, 5.68, 6.04, 6.34, 6.64, 7.0, 7.3, 7.69, 7.99, 8.38, 8.74,
           9.35, 9.95, 10.7]                     # x 1e22
f_sdb_y = [0, 0.1, 0.8, 1.8, 2.9, 3.5, 3.3, 2.8, 2.4, 2.35, 2.35, 2.05, 1.4, 0.9, 0.5, 0.2,
           0.02]                                 # x 1e-23
f_sda_x = [-0.177, -0.146, -0.115, -0.092, -0.069, -0.046, -0.031, -0.015, 0, 0.015, 0.028,
           0.042, 0.054, 0.072, 0.1, 0.123, 0.146]
f_sda_y = [0, 0.2, 0.8, 2, 4, 6.5, 7.0, 7.3, 7.8, 8.5, 8.0, 5.0, 2.0, 1.2, 0.6, 0.2, 0]

# feature normalization in f shows the same features as in a
f_features, f_fb_box, f_fb_out = a_features, a_fb_box, a_fb_out
f_fa_box, f_fa_out = a_fa_box, a_fa_out
f_fdb_x, f_fdb_y, f_fda_x, f_fda_y = a_fdb_x, a_fdb_y, a_fda_x, a_fda_y

# ---------------------------------------------------------------- drawing
fig = plt.figure(figsize=(W / 100, H / 100), dpi=100)
fig.patch.set_facecolor('white')


def place(x0, y0, x1, y1):
    return fig.add_axes([x0 / W, 1 - y1 / H, (x1 - x0) / W, (y1 - y0) / H])


def txt(x, y, s, **kw):
    kw.setdefault('ha', 'center')
    kw.setdefault('va', 'center')
    fig.text(x / W, 1 - y / H, s, **kw)


def style(ax, fs=3.2):
    for s in ax.spines.values():
        s.set_color('#444444')
        s.set_linewidth(0.7)
    ax.tick_params(length=1.6, width=0.4, pad=1.0, labelsize=fs, colors='#333333')


def boxes(ax, stats, outs, labels, xlim, xt, xtl, near=(), dark=False, fs=3.2, width=0.78):
    n = len(stats)
    bx = [dict(q1=q1, med=md, q3=q3, whislo=lo, whishi=hi, fliers=list(near) + list(fl))
          for (q1, md, q3, lo, hi), fl in zip(stats, outs)]
    ax.bxp(bx, positions=np.arange(n, 0, -1), orientation='horizontal', widths=width,
           patch_artist=True, manage_ticks=False,
           boxprops=dict(facecolor='#1a1a1a' if dark else GREEN, edgecolor=EDGE,
                         linewidth=0.45),
           medianprops=dict(color='black', linewidth=1.3, solid_capstyle='butt'),
           whiskerprops=dict(color='#555555', linewidth=0.4),
           capprops=dict(color='#555555', linewidth=0.4),
           flierprops=dict(marker='o', markersize=1.4, markerfacecolor='#222222',
                           markeredgecolor='#222222', markeredgewidth=0.2))
    ax.set_ylim(0.5 - 0.04 * n, n + 0.5 + 0.04 * n)
    ax.set_yticks(np.arange(n, 0, -1))
    ax.set_yticklabels(labels)
    ax.set_xlim(*xlim)
    ax.set_xticks(xt)
    ax.set_xticklabels(xtl, rotation=90)
    style(ax, fs)


def density(ax, x, y, xlim, ylim, xt, xtl, yt, ytl):
    ax.plot(x, y, color=BLUE, lw=1.0, solid_joinstyle='round')
    ax.set_xlim(*xlim)
    ax.set_ylim(*ylim)
    ax.set_xticks(xt)
    ax.set_xticklabels(xtl, rotation=90)
    ax.set_yticks(yt)
    ax.set_yticklabels(ytl)
    style(ax)


def frame_panel(col, row, letter, title, lpos, tpos):
    dx = (0, 534)[col]
    dy = (0, 427, 840)[row]
    txt(*lpos, letter, fontsize=20, fontweight='bold')
    txt(*tpos, title, fontsize=16, family='Liberation Serif')
    txt(168 + dx, 64 + dy + 3 * col, "Sample Normalization", fontsize=9.5,
        fontweight='bold', family='Liberation Serif')
    txt(412 + dx, 64 + dy + 3 * col, "Feature Normalization", fontsize=9.5,
        fontweight='bold', family='Liberation Serif')
    axs = dict(
        sb=place(85 + dx, 99 + dy, 164 + dx, 273 + dy),
        sa=place(207 + dx, 99 + dy, 273 + dx, 273 + dy),
        sdb=place(85 + dx, 305 + dy, 164 + dx, 346 + dy),
        sda=place(202 + dx, 305 + dy, 272 + dx, 346 + dy),
        fdb=place(329 + dx, 96 + dy, 410 + dx, 130 + dy),
        fda=place(449 + dx, 96 + dy, 518 + dx, 130 + dy),
        fb=place(329 + dx, 151 + dy, 410 + dx, 338 + dy),
        fa=place(449 + dx, 151 + dy, 518 + dx, 338 + dy),
    )
    sub = dict(fontsize=4.6, color='#222222')
    txt(124.5 + dx, 92 + dy, "Before Normalization", **sub)
    txt(240 + dx, 92 + dy, "After Normalization", **sub)
    txt(369.5 + dx, 89 + dy, "Before Normalization", **sub)
    txt(483.5 + dx, 89 + dy, "After Normalization", **sub)
    txt(124.5 + dx, 369 + dy, "Intensity", **sub)
    txt(237 + dx, 369 + dy, "Normalized Intensity", **sub)
    txt(369.5 + dx, 368 + dy, "Intensity", **sub)
    txt(483.5 + dx, 368 + dy, "Normalized Intensity", **sub)
    txt(52 + dx, 325 + dy, "Density", rotation=90, **sub)
    txt(298 + dx, 113 + dy, "Density", rotation=90, **sub)
    return axs


e_ticks = ["0e+00", "1e+25", "2e+25", "3e+25", "4e+25"]
sci5 = ["0.0e+00", "5.0e+24", "1.0e+25", "1.5e+25", "2.0e+25"]

# a) ---------------------------------------------------------------------
ax = frame_panel(0, 0, "a)", "One-way ANOVA Folha+1 - CA", (41, 35), (276, 24))
boxes(ax['sb'], [a_sb_box] * len(a_samples), a_sb_out, a_samples, (-0.12, 2.02),
      [0, 0.5, 1.0, 1.5, 2.0], sci5, dark=True)
boxes(ax['sa'], a_sa_box, a_sa_out, a_samples, (-3.75, 3.75), [-3, -2, -1, 0, 1, 2, 3],
      ["-3", "-2", "-1", "0", "1", "2", "3"])
density(ax['sdb'], a_sdb_x, a_sdb_y, (-1.44, 4.3), (-0.2, 6.3), [-1, 0, 1, 2, 3, 4],
        ["-1e+22", "0e+00", "1e+22", "2e+22", "3e+22", "4e+22"], [0, 1, 2, 3, 4, 5, 6],
        ["0e+00", "1e-23", "2e-23", "3e-23", "4e-23", "5e-23", "6e-23"])
density(ax['sda'], a_sda_x, a_sda_y, (-0.118, 0.112), (-0.3, 10.4),
        [-0.10, -0.05, 0, 0.05, 0.10], ["-0.10", "-0.05", "0.00", "0.05", "0.10"],
        [0, 2, 4, 6, 8, 10], ["0", "2", "4", "6", "8", "10"])
density(ax['fdb'], a_fdb_x, a_fdb_y, (-0.02, 1.53), (-0.15, 3.6), [0, 0.5, 1.0, 1.5],
        ["0.0e+00", "5.0e+24", "1.0e+25", "1.5e+25"], [0, 1, 2, 3],
        ["0e+00", "1e-23", "2e-23", "3e-23"])
density(ax['fda'], a_fda_x, a_fda_y, (-1.1, 1.1), (-0.04, 1.26), [-1, -0.5, 0, 0.5, 1],
        ["-1e-15", "-5e-16", "0e+00", "5e-16", "1e-15"],
        [0, 0.2, 0.4, 0.6, 0.8, 1.0, 1.2],
        ["0.0e+00", "2.0e+14", "4.0e+14", "6.0e+14", "8.0e+14", "1.0e+15", "1.2e+15"])
boxes(ax['fb'], a_fb_box, a_fb_out, a_features, (-0.19, 15.3), [0, 5, 10, 15],
      ["0.0e+00", "5.0e+23", "1.0e+24", "1.5e+24"], fs=2.9)
boxes(ax['fa'], a_fa_box, a_fa_out, a_features, (-4.85, 4.6), [-4, -2, 0, 2, 4],
      ["-4", "-2", "0", "2", "4"], fs=2.9)

# b) ---------------------------------------------------------------------
ax = frame_panel(1, 0, "b)", "One-way ANOVA Folha+1 - CE", (566, 40), (817, 26))
boxes(ax['sb'], [b_sb_box] * len(b_samples), b_sb_out, b_samples, (-0.07, 1.69),
      [0, 0.5, 1.0, 1.5], sci5[:4], dark=True)
boxes(ax['sa'], b_sa_box, b_sa_out, b_samples, (-5.2, 4.0), [-4, -2, 0, 2],
      ["-4", "-2", "0", "2"])
density(ax['sdb'], b_sdb_x, b_sdb_y, (-0.61, 2.58), (-0.06, 1.7),
        [-0.5, 0, 0.5, 1.0, 1.5, 2.0, 2.5],
        ["-5.0e+21", "0.0e+00", "5.0e+21", "1.0e+22", "1.5e+22", "2.0e+22", "2.5e+22"],
        [0, 0.5, 1.0, 1.5], ["0.0e+00", "5.0e-23", "1.0e-22", "1.5e-22"])
density(ax['sda'], b_sda_x, b_sda_y, (-0.108, 0.105), (-0.3, 10.7),
        [-0.10, -0.05, 0, 0.05, 0.10], ["-0.10", "-0.05", "0.00", "0.05", "0.10"],
        [0, 2, 4, 6, 8, 10], ["0", "2", "4", "6", "8", "10"])
density(ax['fdb'], b_fdb_x, b_fdb_y, (-0.31, 8.3), (-0.12, 3.5), [0, 2, 4, 6],
        ["0e+00", "2e+18", "4e+18", "6e+18"], [0, 1, 2, 3],
        ["0e+00", "1e-18", "2e-18", "3e-18"])
density(ax['fda'], b_fda_x, b_fda_y, (-2.6, 2.5), (-0.3, 10.5), [-2, -1, 0, 1, 2],
        ["-2e-16", "-1e-16", "0e+00", "1e-16", "2e-16"], [0, 2, 4, 6, 8, 10],
        ["0e+00", "2e+15", "4e+15", "6e+15", "8e+15", "1e+16"])
boxes(ax['fb'], b_fb_box, b_fb_out, b_features, (-0.31, 8.09), [0, 2, 4, 6, 8],
      ["0e+00", "2e+18", "4e+18", "6e+18", "8e+18"], fs=2.7)
boxes(ax['fa'], b_fa_box, b_fa_out, b_features, (-4.2, 3.6), [-2, 0, 2],
      ["-2", "0", "2"], fs=2.7)

# c) ---------------------------------------------------------------------
ax = frame_panel(0, 1, "c)", "Two-way ANOVA Folha+1 - CA e CE", (50, 460), (280, 449))
boxes(ax['sb'], [c_sb_box] * len(c_samples), c_sb_out, c_samples, (-0.05, 2.04),
      [0, 0.5, 1.0, 1.5, 2.0], sci5, dark=True, fs=2.9)
boxes(ax['sa'], c_sa_box, c_sa_out, c_samples, (-5.6, 4.3), [-4, -2, 0, 2, 4],
      ["-4", "-2", "0", "2", "4"], fs=2.9)
density(ax['sdb'], c_sdb_x, c_sdb_y, (-1.1, 2.95), (-0.4, 10.0), [-1, 0, 1, 2, 3],
        ["-1e+22", "0e+00", "1e+22", "2e+22", "3e+22"], [0, 2, 4, 6, 8],
        ["0e+00", "2e-23", "4e-23", "6e-23", "8e-23"])
density(ax['sda'], c_sda_x, c_sda_y, (-0.21, 0.185),
        (-0.4, 12.5), [-0.20, -0.15, -0.10, -0.05, 0, 0.05, 0.10, 0.15],
        ["-0.20", "-0.15", "-0.10", "-0.05", "0.00", "0.05", "0.10", "0.15"],
        [0, 2, 4, 6, 8, 10, 12], ["0", "2", "4", "6", "8", "10", "12"])
density(ax['fdb'], c_fdb_x, c_fdb_y, (-0.14, 4.52), (-0.2, 5.5), [0, 1, 2, 3, 4],
        ["0e+00", "1e+24", "2e+24", "3e+24", "4e+24"], [0, 1, 2, 3, 4, 5],
        ["0e+00", "1e-18", "2e-18", "3e-18", "4e-18", "5e-18"])
density(ax['fda'], c_fda_x, c_fda_y, (-8.96, 7.09), (-0.08, 2.15), [-5, 0, 5],
        ["-5e-17", "0e+00", "5e-17"], [0, 0.5, 1.0, 1.5, 2.0],
        ["0.0e+00", "5.0e+15", "1.0e+16", "1.5e+16", "2.0e+16"])
boxes(ax['fb'], c_fb_box, c_fb_out, c_features, (-0.18, 8.27), [0, 2, 4, 6, 8],
      ["0e+00", "2e+18", "4e+18", "6e+18", "8e+18"], fs=2.7)
boxes(ax['fa'], c_fa_box, c_fa_out, c_features, (-5.6, 2.9), [-4, -2, 0, 2],
      ["-4", "-2", "0", "2"], fs=2.7)

# d) ---------------------------------------------------------------------
ax = frame_panel(1, 1, "d)", "One-way ANOVA Entrenó+3 - CA", (577, 467), (825, 462))
boxes(ax['sb'], [d_sb_box] * len(d_samples), d_sb_out, d_samples, (-0.17, 4.43),
      [0, 1, 2, 3, 4], ["0e+00", "1e+23", "2e+23", "3e+23", "4e+23"], near=d_sb_near,
      dark=True, width=0.6)
boxes(ax['sa'], d_sa_box, d_sa_out, d_samples, (-3.33, 3.4), [-3, -2, -1, 0, 1, 2, 3],
      ["-3", "-2", "-1", "0", "1", "2", "3"], width=0.7)
density(ax['sdb'], d_sdb_x, d_sdb_y, (3.7, 11.8), (-0.15, 3.95), [4, 6, 8, 10],
        ["4e+22", "6e+22", "8e+22", "1e+23"], [0, 1, 2, 3],
        ["0e+00", "1e-23", "2e-23", "3e-23"])
density(ax['sda'], d_sda_x, d_sda_y, (-0.165, 0.155), (-0.2, 7.3),
        [-0.15, -0.10, -0.05, 0, 0.05, 0.10, 0.15],
        ["-0.15", "-0.10", "-0.05", "0.00", "0.05", "0.10", "0.15"],
        [0, 1, 2, 3, 4, 5, 6, 7], ["0", "1", "2", "3", "4", "5", "6", "7"])
density(ax['fdb'], d_fdb_x, d_fdb_y, (-0.06, 1.64), (-0.12, 3.2), [0, 0.5, 1.0, 1.5],
        ["0.0e+00", "5.0e+24", "1.0e+25", "1.5e+25"], [0, 0.5, 1.0, 1.5, 2.0, 2.5, 3.0],
        ["0.0e+00", "5.0e-24", "1.0e-23", "1.5e-23", "2.0e-23", "2.5e-23", "3.0e-23"])
density(ax['fda'], d_fda_x, d_fda_y, (-1.7, 1.75), (-0.3, 10.6),
        [-1.5, -1.0, -0.5, 0, 0.5, 1.0, 1.5],
        ["-1.5e-15", "-1.0e-15", "-5.0e-16", "0.0e+00", "5.0e-16", "1.0e-15", "1.5e-15"],
        [0, 2, 4, 6, 8, 10], ["0e+00", "2e+15", "4e+15", "6e+15", "8e+15", "1e+16"])
boxes(ax['fb'], d_fb_box, d_fb_out, d_features, (-0.16, 4.05), [0, 1, 2, 3, 4],
      ["0e+00", "1e+24", "2e+24", "3e+24", "4e+24"], fs=2.8)
boxes(ax['fa'], d_fa_box, d_fa_out, d_features, (-3.2, 3.2), [-3, -2, -1, 0, 1, 2, 3],
      ["-3", "-2", "-1", "0", "1", "2", "3"], fs=2.8)

# e) ---------------------------------------------------------------------
ax = frame_panel(0, 2, "e)", "One-way ANOVA Entrenó+3 - CE", (52, 873), (270, 861))
boxes(ax['sb'], [e_sb_box] * len(e_samples), e_sb_out, e_samples, (-0.2, 4.43),
      [0, 1, 2, 3, 4], e_ticks, near=e_sb_near, dark=True, width=0.6)
boxes(ax['sa'], e_sa_box, e_sa_out, e_samples, (-3.5, 3.75), [-3, -2, -1, 0, 1, 2, 3],
      ["-3", "-2", "-1", "0", "1", "2", "3"], width=0.7)
density(ax['sdb'], e_sdb_x, e_sdb_y, (3.56, 12.2), (-0.1, 2.7), [4, 6, 8, 10],
        ["4e+22", "6e+22", "8e+22", "1e+23"], [0, 0.5, 1.0, 1.5, 2.0, 2.5],
        ["0.0e+00", "5.0e-24", "1.0e-23", "1.5e-23", "2.0e-23", "2.5e-23"])
density(ax['sda'], e_sda_x, e_sda_y, (-0.098, 0.093), (-0.4, 12.4), [-0.05, 0, 0.05],
        ["-0.05", "0.00", "0.05"], [0, 2, 4, 6, 8, 10, 12],
        ["0", "2", "4", "6", "8", "10", "12"])
density(ax['fdb'], e_fdb_x, e_fdb_y, (-0.12, 14.5), (-0.1, 2.7),
        [0, 2, 4, 6, 8, 10, 12],
        ["0.0e+00", "2.0e+24", "4.0e+24", "6.0e+24", "8.0e+24", "1.0e+25", "1.2e+25"],
        [0, 0.5, 1.0, 1.5, 2.0, 2.5],
        ["0.0e+00", "5.0e-24", "1.0e-23", "1.5e-23", "2.0e-23", "2.5e-23"])
density(ax['fda'], e_fda_x, e_fda_y, (-1.13, 1.02), (-0.3, 10.6), [-1, -0.5, 0, 0.5, 1],
        ["-1e-15", "-5e-16", "0e+00", "5e-16", "1e-15"], [0, 2, 4, 6, 8, 10],
        ["0e+00", "2e+15", "4e+15", "6e+15", "8e+15", "1e+16"])
boxes(ax['fb'], e_fb_box, e_fb_out, e_features, (-0.1, 5.15), [0, 1, 2, 3, 4, 5],
      ["0e+00", "1e+24", "2e+24", "3e+24", "4e+24", "5e+24"], fs=2.9)
boxes(ax['fa'], e_fa_box, e_fa_out, e_features, (-3.3, 3.35), [-3, -2, -1, 0, 1, 2, 3],
      ["-3", "-2", "-1", "0", "1", "2", "3"], fs=2.9)

# f) ---------------------------------------------------------------------
ax = frame_panel(1, 2, "f)", "Two-way ANOVA Entrenó+3 - CA e CE", (592, 877), (845, 866))
boxes(ax['sb'], [f_sb_box] * len(f_samples), f_sb_out, f_samples, (-0.2, 4.44),
      [0, 1, 2, 3, 4], e_ticks, near=f_sb_near, dark=True, fs=2.9)
boxes(ax['sa'], f_sa_box, f_sa_out, f_samples, (-5.0, 5.1), [-4, -2, 0, 2, 4],
      ["-4", "-2", "0", "2", "4"], fs=2.9)
density(ax['sdb'], f_sdb_x, f_sdb_y, (3.64, 10.9), (-0.12, 3.65),
        [4, 5, 6, 7, 8, 9, 10],
        ["4e+22", "5e+22", "6e+22", "7e+22", "8e+22", "9e+22", "1e+23"],
        [0, 0.5, 1.0, 1.5, 2.0, 2.5, 3.0, 3.5],
        ["0.0e+00", "5.0e-24", "1.0e-23", "1.5e-23", "2.0e-23", "2.5e-23", "3.0e-23",
         "3.5e-23"])
density(ax['sda'], f_sda_x, f_sda_y, (-0.188, 0.151), (-0.3, 8.8),
        [-0.15, -0.10, -0.05, 0, 0.05, 0.10, 0.15],
        ["-0.15", "-0.10", "-0.05", "0.00", "0.05", "0.10", "0.15"],
        [0, 2, 4, 6, 8], ["0", "2", "4", "6", "8"])
density(ax['fdb'], f_fdb_x, f_fdb_y, (-0.02, 1.53), (-0.15, 3.6), [0, 0.5, 1.0, 1.5],
        ["0.0e+00", "5.0e+24", "1.0e+25", "1.5e+25"], [0, 1, 2, 3],
        ["0e+00", "1e-23", "2e-23", "3e-23"])
density(ax['fda'], f_fda_x, f_fda_y, (-1.1, 1.1), (-0.04, 1.26), [-1, -0.5, 0, 0.5, 1],
        ["-1e-15", "-5e-16", "0e+00", "5e-16", "1e-15"],
        [0, 0.2, 0.4, 0.6, 0.8, 1.0, 1.2],
        ["0.0e+00", "2.0e+14", "4.0e+14", "6.0e+14", "8.0e+14", "1.0e+15", "1.2e+15"])
boxes(ax['fb'], f_fb_box, f_fb_out, f_features, (-0.19, 15.3), [0, 5, 10, 15],
      ["0.0e+00", "5.0e+23", "1.0e+24", "1.5e+24"], fs=2.9)
boxes(ax['fa'], f_fa_box, f_fa_out, f_features, (-4.85, 4.6), [-4, -2, 0, 2, 4],
      ["-4", "-2", "0", "2", "4"], fs=2.9)

fig.savefig('out.png', dpi=100, facecolor='white')
